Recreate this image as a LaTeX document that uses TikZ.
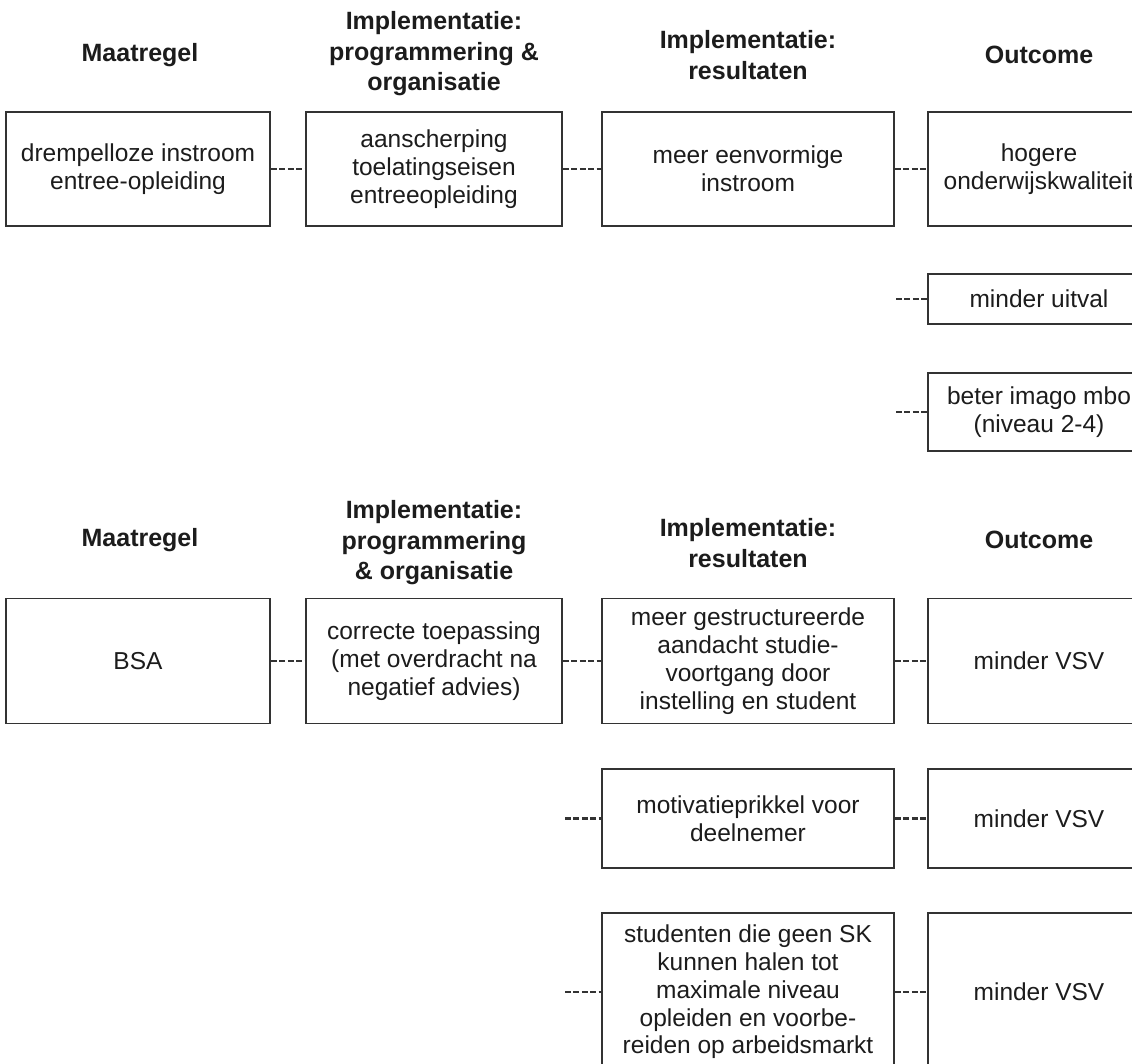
\documentclass[tikz,border=0pt]{standalone}
\usepackage{fontspec}
\setmainfont{Liberation Sans}
\definecolor{ink}{HTML}{1C1C1C}
\definecolor{edge}{HTML}{333333}
\begin{document}
\begin{tikzpicture}[x=1pt,y=-1pt,
  head/.style={font=\fontsize{25}{30.5}\selectfont\bfseries, text=ink, align=center, inner sep=0pt},
  box/.style={draw=edge, line width=1.9pt, fill=white, align=center, inner sep=0pt,
    font=\fontsize{24.5}{27.8}\selectfont, text=ink},
  colA/.style={box, minimum width=264pt},
  colB/.style={box, minimum width=256pt},
  colC/.style={box, minimum width=292pt},
  colD/.style={box, minimum width=222pt},
  link/.style={draw=edge, line width=2.8pt, dash pattern=on 6pt off 2.4pt}]

\useasboundingbox (0,0) rectangle (1132,1063);
\fill[white] (0,0) rectangle (1132,1063);
\clip (0,0) rectangle (1132,1063);

% ---- first chain: entree-opleiding ----
\node[head] (h1a) at (140,55) {Maatregel};
\node[head] (h2a) at (434,54) {Implementatie:\\programmering \&\\organisatie};
\node[head] (h3a) at (748,55) {Implementatie:\\resultaten};
\node[head] (h4a) at (1039,55) {Outcome};

\node[colA, minimum height=114pt] (a1) at (138,169) {drempelloze instroom\\entree-opleiding};
\node[colB, minimum height=114pt] (a2) at (434,169) {aanscherping\\toelatingseisen\\entreeopleiding};
\node[colC, minimum height=114pt] (a3) at (748,169) {meer eenvormige\\instroom};
\node[colD, minimum height=114pt] (a4) at (1039,169) {hogere\\onderwijskwaliteit};
\node[colD, minimum height=50pt] (a5) at (1039,299) {minder uitval};
\node[colD, minimum height=78pt] (a6) at (1039,412) {beter imago mbo\\(niveau 2-4)};
\coordinate (fa5) at (896,299);
\coordinate (fa6) at (896,412);

\draw[link] (a1) -- (a2);
\draw[link] (a2) -- (a3);
\draw[link] (a3) -- (a4);
\draw[link] (fa5) -- (a5);
\draw[link] (fa6) -- (a6);

% ---- second chain: BSA ----
\node[head] (h1b) at (140,540) {Maatregel};
\node[head] (h2b) at (434,543) {Implementatie:\\programmering\\\& organisatie};
\node[head] (h3b) at (748,543) {Implementatie:\\resultaten};
\node[head] (h4b) at (1039,540) {Outcome};

\node[colA, minimum height=125pt] (b1) at (138,661) {BSA};
\node[colB, minimum height=125pt] (b2) at (434,661) {correcte toepassing\\(met overdracht na\\negatief advies)};
\node[colC, minimum height=125pt] (b3) at (748,661) {meer gestructureerde\\aandacht studie-\\voortgang door\\instelling en student};
\node[colD, minimum height=125pt] (b4) at (1039,661) {minder VSV};

\node[colC, minimum height=99pt] (c3) at (748,818.5) {motivatieprikkel voor\\deelnemer};
\node[colD, minimum height=99pt] (c4) at (1039,818.5) {minder VSV};

\node[colC, minimum height=158pt] (d3) at (748,992) {studenten die geen SK\\kunnen halen tot\\maximale niveau\\opleiden en voorbe-\\reiden op arbeidsmarkt};
\node[colD, minimum height=158pt] (d4) at (1039,992) {minder VSV};
\coordinate (fc) at (565,818.5);
\coordinate (fd) at (565,992);

\draw[link] (b1) -- (b2);
\draw[link] (b2) -- (b3);
\draw[link] (b3) -- (b4);
\draw[link] (fc) -- (c3);
\draw[link] (c3) -- (c4);
\draw[link] (fd) -- (d3);
\draw[link] (d3) -- (d4);
\end{tikzpicture}
\end{document}
